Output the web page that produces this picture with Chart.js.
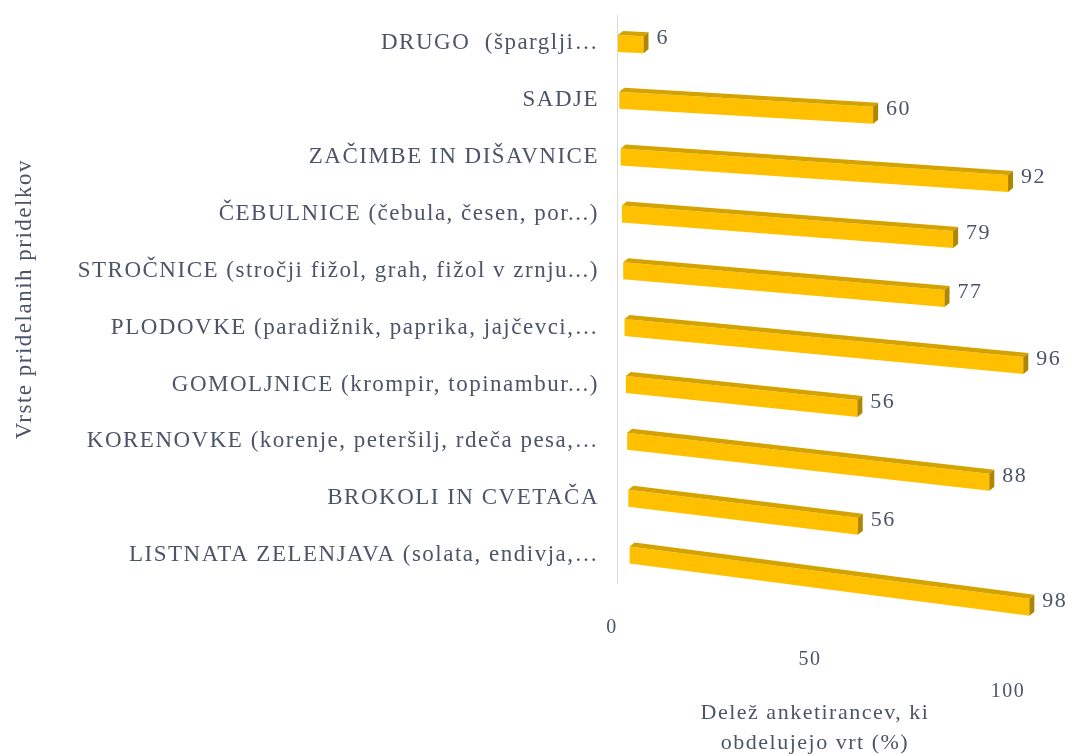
<!DOCTYPE html>
<html>
<head>
<meta charset="utf-8">
<script src="https://cdn.jsdelivr.net/npm/chart.js@4.4.1/dist/chart.umd.min.js"></script>
<style>
  html, body { margin: 0; padding: 0; background: #fff; }
  #wrap { width: 1068px; height: 754px; }
</style>
</head>
<body>
<div id="wrap"><canvas id="chart"></canvas></div>
<script>
const categories = [
    'DRUGO  (šparglji…',
    'SADJE',
    'ZAČIMBE IN DIŠAVNICE',
    'ČEBULNICE (čebula, česen, por...)',
    'STROČNICE (stročji fižol, grah, fižol v zrnju...)',
    'PLODOVKE (paradižnik, paprika, jajčevci,…',
    'GOMOLJNICE (krompir, topinambur...)',
    'KORENOVKE (korenje, peteršilj, rdeča pesa,…',
    'BROKOLI IN CVETAČA',
    'LISTNATA ZELENJAVA (solata, endivja,…'
];
const shares = [6, 60, 92, 79, 77, 96, 56, 88, 56, 98]; // % of respondents
const xTickValues = [0, 50, 100];

const textColor = '#4B5567';
const serif = "'Liberation Serif', 'DejaVu Serif', serif";
const spacing = '1.5px'; // the original text is set quite loose

function poly(ctx, pts, color) {
    ctx.beginPath();
    ctx.moveTo(pts[0][0], pts[0][1]);
    for (let i = 1; i < pts.length; i++) ctx.lineTo(pts[i][0], pts[i][1]);
    ctx.closePath();
    ctx.fillStyle = color;
    ctx.fill();
}

// canvas resize resets the context, so set letter spacing again before layout and draw
const looseText = {
    id: 'looseText',
    beforeLayout(chart) { chart.ctx.letterSpacing = spacing; },
    beforeDraw(chart) { chart.ctx.letterSpacing = spacing; }
};

// draws the bars as 3D boxes in front of the axis plane: they sink to the right
// and look a bit longer than the axis, less so for the lower rows
const bars3d = {
    id: 'bars3d',
    beforeDatasetsDraw(chart) {
        const ctx = chart.ctx;
        const meta = chart.getDatasetMeta(0);
        const values = chart.data.datasets[0].data;
        const dx = 5, dy = 4;
        ctx.save();
        ctx.font = '22px ' + serif;
        ctx.textBaseline = 'middle';
        ctx.textAlign = 'left';
        meta.data.forEach((bar, i) => {
            const h = bar.height;
            const shift = 1 + i * 1.3;
            const persp = 1.073 - 0.0048 * i;
            const x0 = bar.base + shift;
            const x1 = x0 + (bar.x - bar.base) * persp;
            const k = 0.05 + 0.009 * i;
            const drop = k * (x1 - x0);
            const yT0 = bar.y - h / 2, yB0 = bar.y + h / 2;
            const yT1 = yT0 + drop, yB1 = yB0 + drop;
            poly(ctx, [[x0, yT0], [x1, yT1], [x1, yB1], [x0, yB0]], '#FFC000');
            poly(ctx, [[x0, yT0], [x0 + dx, yT0 - dy], [x1 + dx, yT1 - dy], [x1, yT1]], '#D4A300');
            poly(ctx, [[x1, yT1], [x1 + dx, yT1 - dy], [x1 + dx, yB1 - dy], [x1, yB1]], '#B08600');
            ctx.fillStyle = textColor;
            ctx.fillText(String(values[i]), x1 + dx + 8, bar.y + drop - 6);
        });
        ctx.restore();
        return false;
    }
};

const chart = new Chart(document.getElementById('chart'), {
    type: 'bar',
    data: {
        labels: categories,
        datasets: [{
            data: shares,
            backgroundColor: '#FFC000',
            barThickness: 17
        }]
    },
    options: {
        indexAxis: 'y',
        responsive: true,
        maintainAspectRatio: false,
        animation: false,
        layout: {
            padding: { left: 7, right: 55, top: 15, bottom: 0 }
        },
        plugins: {
            legend: { display: false },
            tooltip: { enabled: false }
        },
        scales: {
            x: {
                min: 0,
                max: 100,
                afterBuildTicks: (s) => { s.ticks = xTickValues.map(v => ({ value: v })); },
                afterFit: (s) => {
                    s.paddingLeft = 0;
                    s.paddingRight = 0;
                },
                grid: { display: false, drawTicks: false },
                border: { display: false },
                ticks: {
                    padding: 28,
                    labelOffset: -5,
                    color: textColor,
                    font: { family: serif, size: 20, lineHeight: 1.6 },
                    callback: (v) => {
                        const i = xTickValues.indexOf(v);
                        const lines = Array(Math.max(i, 0)).fill('');
                        lines.push(String(v));
                        return lines;
                    }
                },
                title: {
                    display: true,
                    text: ['Delež anketirancev, ki', 'obdelujejo vrt (%)'],
                    color: textColor,
                    font: { family: serif, size: 22, lineHeight: 1.4 },
                    padding: { top: -38, bottom: -5 }
                }
            },
            y: {
                afterFit: (s) => {
                    s.width = 610;
                    s.paddingTop = 0;
                    s.paddingBottom = 0;
                },
                grid: { display: false, drawTicks: false },
                border: { display: true, color: '#D9D9D9', width: 1 },
                ticks: {
                    padding: 18,
                    color: textColor,
                    font: { family: serif, size: 23 }
                },
                title: {
                    display: true,
                    text: 'Vrste pridelanih pridelkov',
                    color: textColor,
                    font: { family: serif, size: 23 },
                    padding: { top: 4, bottom: 4 }
                }
            }
        }
    },
    plugins: [looseText, bars3d]
});
</script>
</body>
</html>
